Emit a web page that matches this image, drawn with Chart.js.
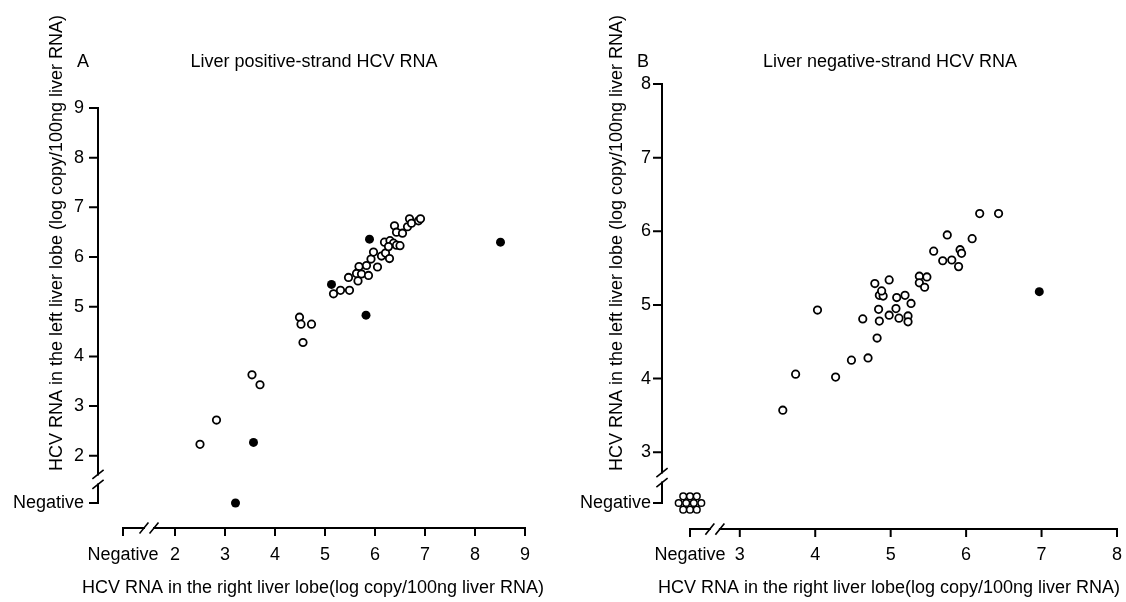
<!DOCTYPE html>
<html>
<head>
<meta charset="utf-8">
<script src="https://cdn.jsdelivr.net/npm/chart.js@4"></script>
<style>
  body { margin: 0; background: #fff; overflow: hidden; }
  .panel { position: absolute; top: 0; width: 563px; height: 602px; }
  #panelA { left: 0; }
  #panelB { left: 563px; }
</style>
</head>
<body>
<div class="panel" id="panelA"><canvas id="chartA"></canvas></div>
<div class="panel" id="panelB"><canvas id="chartB"></canvas></div>
<script>
// Panel A: liver positive-strand HCV RNA
// "Negative" sits just below the first numbered tick on each axis
const A_NEG_X = 0.96;
const A_NEG_Y = 1.05;
const aXTicks = [2, 3, 4, 5, 6, 7, 8, 9];
const aYTicks = [2, 3, 4, 5, 6, 7, 8, 9];

const aOpenX = [2.50, 2.83, 3.54, 3.70, 4.49, 4.52, 4.73, 4.56, 5.17, 5.31, 5.49, 5.47, 5.66, 5.68, 5.63, 5.73, 5.87, 5.83, 6.05,
  5.92, 5.97, 6.13, 6.21, 6.29, 6.19, 6.30, 6.37, 6.43, 6.50, 6.27, 6.39, 6.43, 6.55, 6.65, 6.69, 6.73, 6.87, 6.91];
const aOpenY = [2.23, 2.72, 3.63, 3.43, 4.79, 4.65, 4.65, 4.28, 5.26, 5.33, 5.33, 5.59, 5.52, 5.81, 5.67, 5.66, 5.63, 5.83, 5.80,
  5.96, 6.10, 6.02, 6.08, 5.97, 6.30, 6.33, 6.28, 6.24, 6.23, 6.21, 6.63, 6.50, 6.48, 6.61, 6.77, 6.68, 6.73, 6.77];
const aFilledX = [5.89, 8.51, 5.13, 5.82, 3.57, 3.21];
const aFilledY = [6.36, 6.30, 5.45, 4.83, 2.27, A_NEG_Y];

// Panel B: liver negative-strand HCV RNA
const B_NEG_X = 2.34;
const B_NEG_Y = 2.31;
const bXTicks = [3, 4, 5, 6, 7, 8];
const bYTicks = [3, 4, 5, 6, 7, 8];

const bOpenX = [3.57, 3.74, 4.27, 4.03, 4.48, 4.70, 4.82, 4.63, 4.85, 4.84, 4.98, 5.11, 5.23, 5.23, 5.07, 5.27, 5.08, 5.19, 4.85,
  4.90, 4.88, 4.79, 4.98, 5.38, 5.48, 5.38, 5.45, 5.57, 5.69, 5.81, 5.90, 5.92, 5.94, 5.75, 6.08, 6.18, 6.43];
const bOpenY = [3.57, 4.06, 4.02, 4.93, 4.25, 4.28, 4.55, 4.81, 4.78, 4.94, 4.86, 4.82, 4.85, 4.77, 4.95, 5.02, 5.10, 5.13, 5.13,
  5.12, 5.19, 5.29, 5.34, 5.39, 5.38, 5.30, 5.24, 5.73, 5.60, 5.61, 5.52, 5.75, 5.70, 5.95, 5.90, 6.24, 6.24];
const bFilledX = [6.97];
const bFilledY = [5.18];
// both lobes negative, drawn as a small packed cluster
const bNegX = [2.25, 2.34, 2.43, 2.19, 2.29, 2.39, 2.49, 2.25, 2.34, 2.43];
const bNegY = [2.40, 2.40, 2.40, 2.31, 2.31, 2.31, 2.31, 2.22, 2.22, 2.22];

const FONT = '"Liberation Sans", Arial, sans-serif';

function pts(xs, ys) {
  return xs.map((x, i) => ({ x: x, y: ys[i] }));
}

// axis lines with breaks, tick marks and all the panel text
const axesPlugin = {
  id: 'hcvAxes',
  afterDraw(chart, args, o) {
    const { ctx, scales: { x, y } } = chart;
    const xNeg = x.getPixelForValue(o.negX);
    const yNeg = y.getPixelForValue(o.negY);
    const ax = xNeg - o.gapY;
    const ay = yNeg + o.gapX;
    ctx.save();
    ctx.strokeStyle = '#000';
    ctx.lineWidth = 2;
    ctx.lineCap = 'square';

    // y axis, broken between Negative and the first number
    const yFirst = y.getPixelForValue(o.yTicks[0]);
    const yTop = y.getPixelForValue(o.yTicks[o.yTicks.length - 1]);
    const yb = (yNeg + yFirst) / 2;
    ctx.beginPath();
    ctx.moveTo(ax, yTop); ctx.lineTo(ax, yb - 5);
    ctx.moveTo(ax, yb + 5); ctx.lineTo(ax, yNeg);
    [o.negY, ...o.yTicks].forEach(v => {
      const p = y.getPixelForValue(v);
      ctx.moveTo(ax - 8, p); ctx.lineTo(ax, p);
    });
    ctx.stroke();
    ctx.lineWidth = 1.6;
    ctx.beginPath();
    ctx.moveTo(ax - 5, yb - 1); ctx.lineTo(ax + 5, yb - 9);
    ctx.moveTo(ax - 5, yb + 9); ctx.lineTo(ax + 5, yb + 1);
    ctx.stroke();

    // x axis
    ctx.lineWidth = 2;
    const xFirst = x.getPixelForValue(o.xTicks[0]);
    const xEnd = x.getPixelForValue(o.xTicks[o.xTicks.length - 1]);
    const xb = (xNeg + xFirst) / 2;
    ctx.beginPath();
    ctx.moveTo(xNeg, ay); ctx.lineTo(xb - 5, ay);
    ctx.moveTo(xb + 5, ay); ctx.lineTo(xEnd, ay);
    [o.negX, ...o.xTicks].forEach(v => {
      const p = x.getPixelForValue(v);
      ctx.moveTo(p, ay); ctx.lineTo(p, ay + 7);
    });
    ctx.stroke();
    ctx.lineWidth = 1.6;
    ctx.beginPath();
    ctx.moveTo(xb - 9, ay + 5); ctx.lineTo(xb - 1, ay - 5);
    ctx.moveTo(xb + 1, ay + 5); ctx.lineTo(xb + 9, ay - 5);
    ctx.stroke();

    // text
    ctx.fillStyle = '#000';
    ctx.font = '18px ' + FONT;
    ctx.textBaseline = 'middle';
    ctx.textAlign = 'left';
    ctx.fillText(o.letter, o.letterX, o.headY);
    ctx.textAlign = 'center';
    ctx.fillText(o.title, o.titleX, o.headY);
    ctx.fillText(o.xTitle, o.xTitleX, o.xTitleY);
    ctx.translate(o.yTitleX, o.yTitleY);
    ctx.rotate(-Math.PI / 2);
    ctx.fillText(o.yTitle, 0, 0);
    ctx.restore();
  }
};

function makeChart(id, cfg) {
  const tickFont = { family: FONT, size: 18 };
  return new Chart(document.getElementById(id), {
    type: 'scatter',
    data: {
      datasets: cfg.datasets.map(d => Object.assign({
        pointStyle: 'circle',
        borderColor: '#000',
        clip: false
      }, d))
    },
    options: {
      responsive: true,
      maintainAspectRatio: false,
      animation: false,
      events: [],
      layout: { padding: cfg.padding },
      plugins: {
        legend: { display: false },
        tooltip: { enabled: false },
        hcvAxes: Object.assign({ negX: cfg.negX, negY: cfg.negY, xTicks: cfg.xTicks, yTicks: cfg.yTicks }, cfg.axes)
      },
      scales: {
        x: {
          type: 'linear',
          min: cfg.xMin,
          max: cfg.xTicks[cfg.xTicks.length - 1],
          grid: { display: false, drawTicks: true, tickLength: cfg.xLabelGap },
          border: { display: false },
          afterBuildTicks: s => { s.ticks = [cfg.negX, ...cfg.xTicks].map(v => ({ value: v })); },
          afterFit: s => { s.height = cfg.xHeight; },
          ticks: {
            autoSkip: false,
            maxRotation: 0,
            padding: 3,
            color: '#000',
            font: tickFont,
            callback: v => v === cfg.negX ? 'Negative' : v
          }
        },
        y: {
          type: 'linear',
          min: cfg.yMin,
          max: cfg.yTicks[cfg.yTicks.length - 1],
          grid: { display: false, drawTicks: true, tickLength: cfg.yLabelGap },
          border: { display: false },
          afterBuildTicks: s => { s.ticks = [cfg.negY, ...cfg.yTicks].map(v => ({ value: v })); },
          afterFit: s => { s.width = cfg.yWidth; },
          ticks: {
            autoSkip: false,
            padding: 3,
            color: '#000',
            font: tickFont,
            callback: v => v === cfg.negY ? 'Negative' : v
          }
        }
      }
    },
    plugins: [axesPlugin]
  });
}

const yTitle = 'HCV RNA in the left liver lobe (log copy/100ng liver RNA)';
const xTitle = 'HCV RNA in the right liver lobe(log copy/100ng liver RNA)';

makeChart('chartA', {
  negX: A_NEG_X, negY: A_NEG_Y, xTicks: aXTicks, yTicks: aYTicks,
  xMin: A_NEG_X, yMin: A_NEG_Y,
  padding: { top: 108, right: 38, left: 0, bottom: 0 },
  yWidth: 123, xHeight: 99,
  yLabelGap: 36, xLabelGap: 38,
  datasets: [
    { data: pts(aOpenX, aOpenY), backgroundColor: '#fff', borderWidth: 1.8, pointRadius: 3.7 },
    { data: pts(aFilledX, aFilledY), backgroundColor: '#000', borderWidth: 0, pointRadius: 4.5 }
  ],
  axes: {
    gapX: 25, gapY: 25,
    letter: 'A', letterX: 77, headY: 62,
    title: 'Liver positive-strand HCV RNA', titleX: 314,
    xTitle: xTitle, xTitleX: 313, xTitleY: 588,
    yTitle: yTitle, yTitleX: 57, yTitleY: 243
  }
});

// B starts its scales a little below "Negative" so the cluster is not cut off
makeChart('chartB', {
  negX: B_NEG_X, negY: B_NEG_Y, xTicks: bXTicks, yTicks: bYTicks,
  xMin: 2.0, yMin: 2.0,
  padding: { top: 84, right: 9, left: 0, bottom: 0 },
  yWidth: 101.35, xHeight: 76.17,
  yLabelGap: 10.35, xLabelGap: 15.17,
  datasets: [
    { data: pts(bOpenX, bOpenY), backgroundColor: '#fff', borderWidth: 1.8, pointRadius: 3.7 },
    { data: pts(bFilledX, bFilledY), backgroundColor: '#000', borderWidth: 0, pointRadius: 4.5 },
    { data: pts(bNegX, bNegY), backgroundColor: '#fff', borderWidth: 1.5, pointRadius: 3.3 }
  ],
  axes: {
    gapX: 26, gapY: 28,
    letter: 'B', letterX: 74, headY: 62,
    title: 'Liver negative-strand HCV RNA', titleX: 327,
    xTitle: xTitle, xTitleX: 326, xTitleY: 588,
    yTitle: yTitle, yTitleX: 54, yTitleY: 243
  }
});
</script>
</body>
</html>
